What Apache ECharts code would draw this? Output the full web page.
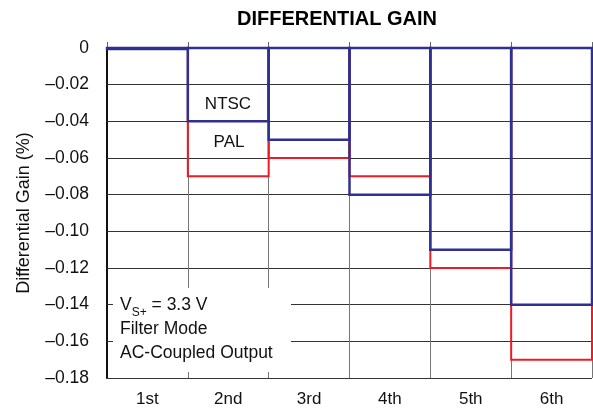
<!DOCTYPE html>
<html>
<head>
<meta charset="utf-8">
<script src="https://cdn.jsdelivr.net/npm/echarts@6/dist/echarts.min.js"></script>
<style>html,body{margin:0;padding:0;background:#fff}#c{width:593px;height:411px}</style>
</head>
<body>
<div id="c"></div>
<script>
const categories = ['1st', '2nd', '3rd', '4th', '5th', '6th'];
const ntsc = [-0.0005, -0.04, -0.05, -0.08, -0.11, -0.14];
const pal = [-0.0005, -0.07, -0.06, -0.07, -0.12, -0.17];
const yTicks = [0, -0.02, -0.04, -0.06, -0.08, -0.10, -0.12, -0.14, -0.16, -0.18];

const FONT = '"Liberation Sans", Arial, Helvetica, sans-serif';
const BLUE = '#2e3192';
const RED = '#ed1c24';

function outlineSeries(name, values, color, width, z) {
  return {
    name: name,
    type: 'custom',
    z: z,
    data: values.map(function (v, i) { return [i, v]; }),
    renderItem: function (params, api) {
      const base = api.coord([api.value(0), 0]);
      const top = api.coord([api.value(0), api.value(1)]);
      const w = api.size([1, 0])[0];
      return {
        type: 'rect',
        shape: {x: base[0] - w / 2, y: base[1], width: w, height: top[1] - base[1]},
        style: {fill: null, stroke: color, lineWidth: width}
      };
    }
  };
}

const chart = echarts.init(document.getElementById('c'), null, {renderer: 'canvas'});
chart.setOption({
  animation: false,
  backgroundColor: '#fff',
  textStyle: {fontFamily: FONT},
  title: {
    text: 'DIFFERENTIAL GAIN',
    left: 332, top: 4, textAlign: 'center',
    textStyle: {fontFamily: FONT, fontWeight: 'bold', fontSize: 20, color: '#000'}
  },
  grid: {left: 107, right: 1, top: 48, bottom: 33},
  xAxis: {
    type: 'category',
    data: categories,
    boundaryGap: true,
    axisLine: {lineStyle: {color: '#111', width: 2}},
    axisTick: {show: true, inside: true, length: 6, lineStyle: {color: '#666'}},
    axisLabel: {fontFamily: FONT, fontSize: 17, color: '#111', margin: 13},
    splitLine: {show: true, lineStyle: {color: '#777', width: 1}}
  },
  yAxis: {
    type: 'value',
    min: -0.18, max: 0, interval: 0.02,
    name: 'Differential Gain (%)',
    nameLocation: 'middle',
    nameGap: 74,
    nameTextStyle: {fontFamily: FONT, fontSize: 18, color: '#111'},
    axisLine: {show: true, lineStyle: {color: '#111', width: 2}},
    axisTick: {show: true, inside: true, length: 6, lineStyle: {color: '#333'}},
    axisLabel: {
      fontFamily: FONT, fontSize: 17.5, color: '#111', margin: 18,
      formatter: function (v) {
        const r = Math.round(v * 100) / 100;
        if (Math.abs(r) < 1e-9) return '0';
        return '\u2013' + Math.abs(r).toFixed(2);
      }
    },
    splitLine: {show: true, lineStyle: {color: '#333', width: 1}}
  },
  series: [
    outlineSeries('PAL', pal, RED, 2, 3),
    outlineSeries('NTSC', ntsc, BLUE, 2.5, 4)
  ],
  graphic: [
    {type: 'text', x: 228, y: 104, z: 100,
     style: {text: 'NTSC', font: '17px ' + FONT, fill: '#111', align: 'center', verticalAlign: 'middle'}},
    {type: 'text', x: 229, y: 142, z: 100,
     style: {text: 'PAL', font: '17px ' + FONT, fill: '#111', align: 'center', verticalAlign: 'middle'}},
    {type: 'rect', x: 113, y: 288, z: 90,
     shape: {width: 178, height: 84}, style: {fill: '#fff'}},
    {type: 'text', x: 120, y: 290, z: 100,
     style: {
       text: '{a|V}{s|S+}{a| = 3.3 V}\n{a|Filter Mode}\n{a|AC-Coupled Output}',
       rich: {
         a: {fontFamily: FONT, fontSize: 17.5, fill: '#111', color: '#111', lineHeight: 24, verticalAlign: 'bottom'},
         s: {fontFamily: FONT, fontSize: 12, fill: '#111', color: '#111', lineHeight: 24, padding: [0, 0, -5, 0], verticalAlign: 'bottom'}
       }
     }}
  ]
});
</script>
</body>
</html>
